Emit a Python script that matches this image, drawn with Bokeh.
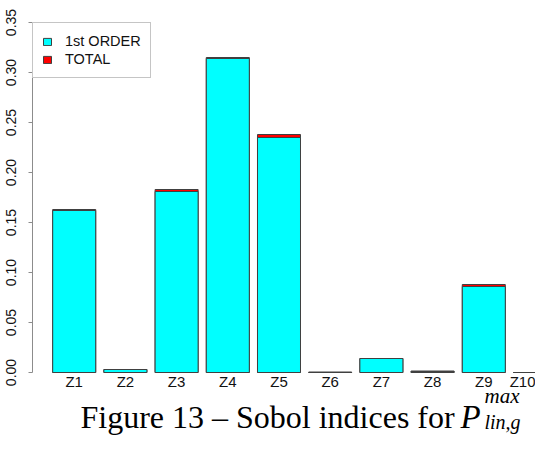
from bokeh.plotting import figure
from bokeh.models import (Range1d, FixedTicker, NumeralTickFormatter, Legend,
                          LegendItem)
from bokeh.core.properties import value
from bokeh.embed import file_html
from bokeh.resources import INLINE

# ---- data ----
categories = ["Z1", "Z2", "Z3", "Z4", "Z5", "Z6", "Z7", "Z8", "Z9", "Z10"]
first_order = [0.162, 0.003, 0.181, 0.314, 0.235, 0.0, 0.014, 0.001, 0.086, 0.0]
total = [0.163, 0.003, 0.183, 0.315, 0.238, 0.0005, 0.014, 0.0015, 0.088, 0.0]
y_ticks = [0.00, 0.05, 0.10, 0.15, 0.20, 0.25, 0.30, 0.35]
legend_labels = ["1st ORDER", "TOTAL"]
caption_main = "Figure 13 \u2013 Sobol indices for"
caption_sym = "P"
caption_sup = "max"
caption_sub = "lin,g"

xs = list(range(1, len(categories) + 1))

W, H = 535, 437
p = figure(width=W, height=H, output_backend="svg", toolbar_location=None,
           x_range=Range1d(0.1855, 10.010), y_range=Range1d(-0.065, 0.35),
           min_border_left=32, min_border_right=0, min_border_top=22,
           min_border_bottom=0)
p.outline_line_color = None
p.xgrid.visible = False
p.ygrid.visible = False
p.background_fill_color = "white"
p.border_fill_color = "white"

r_tot = p.vbar(x=xs, top=total, bottom=0, width=0.84, fill_color="#ff0000",
               line_color="#404040", line_width=1)
r_first = p.vbar(x=xs, top=first_order, bottom=0, width=0.84, fill_color="#00ffff",
                 line_color="#404040", line_width=1)

# x axis drawn at y = 0 inside the frame
xa = p.xaxis[0]
xa.fixed_location = 0
xa.ticker = FixedTicker(ticks=xs)
xa.major_label_overrides = {x: c for x, c in zip(xs, categories)}
xa.axis_line_color = None
xa.major_tick_line_color = None
xa.major_tick_out = 0
xa.major_tick_in = 0
xa.minor_tick_line_color = None
xa.minor_tick_out = 0
xa.major_label_standoff = 0
xa.major_label_text_font = "Liberation Sans"
xa.major_label_text_font_size = "15px"
xa.major_label_text_color = "#111111"

# y axis
ya = p.yaxis[0]
ya.bounds = (0, 0.35)
ya.ticker = FixedTicker(ticks=y_ticks)
ya.formatter = NumeralTickFormatter(format="0.00")
ya.axis_line_color = "#8c8c8c"
ya.major_tick_line_color = "#8c8c8c"
ya.major_tick_in = 0
ya.major_tick_out = 4
ya.minor_tick_line_color = None
ya.major_label_orientation = "vertical"
ya.major_label_standoff = 13
ya.major_label_text_font = "Liberation Sans"
ya.major_label_text_font_size = "14px"
ya.major_label_text_color = "#111111"

legend = Legend(items=[LegendItem(label=legend_labels[0], renderers=[r_first]),
                       LegendItem(label=legend_labels[1], renderers=[r_tot])],
                location="top_left", margin=0, padding=9, spacing=0,
                glyph_width=10, glyph_height=9, label_height=18,
                label_standoff=13, label_text_font="Liberation Sans",
                label_text_font_size="14.5px", label_text_color="#111111",
                border_line_color="#8c8c8c", border_line_width=1,
                background_fill_alpha=1.0)
p.add_layout(legend, "center")

# ---- caption below the bars, inside the extended frame ----
serif = value("Liberation Serif")
p.text(x=[1.123], y=[-0.044], text=[caption_main], text_font=serif,
       text_font_size="32px", text_baseline="alphabetic", text_align="left",
       text_color="black")
p.text(x=[8.545], y=[-0.044], text=[caption_sym], text_font=serif,
       text_font_style="italic", text_font_size="33px",
       text_baseline="alphabetic", text_align="left", text_color="black")
p.text(x=[9.014], y=[-0.023], text=[caption_sup], text_font=serif,
       text_font_style="italic", text_font_size="21px",
       text_baseline="alphabetic", text_align="left", text_color="black")
p.text(x=[9.014], y=[-0.049], text=[caption_sub], text_font=serif,
       text_font_style="italic", text_font_size="20px",
       text_baseline="alphabetic", text_align="left", text_color="black")

open("out.html", "w").write(file_html(p, INLINE))
